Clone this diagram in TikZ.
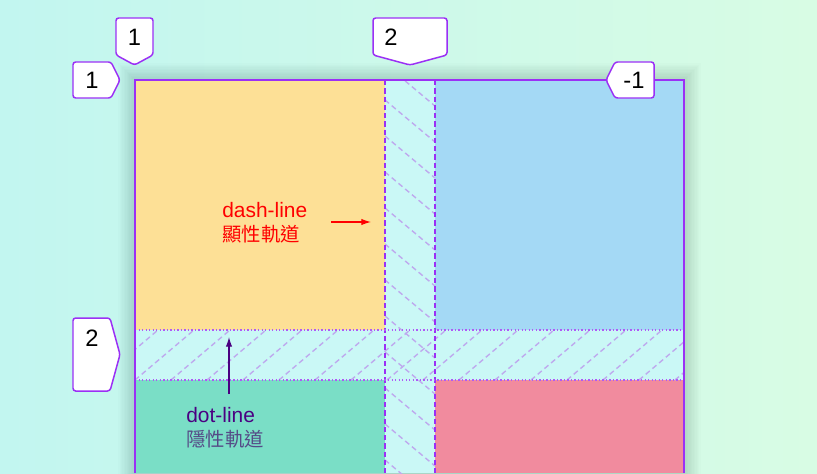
\documentclass[tikz,border=0pt]{standalone}
\usepackage{fontspec}
\setmainfont{Liberation Sans}
\newfontfamily\cjkfont{Noto Sans CJK TC}
\usepackage{tikz}
\usetikzlibrary{arrows.meta}
\definecolor{bgcyan}{RGB}{194,246,240}
\definecolor{bggreen}{RGB}{216,252,228}
\definecolor{cellorange}{RGB}{253,224,150}
\definecolor{cellblue}{RGB}{164,217,245}
\definecolor{cellteal}{RGB}{122,222,198}
\definecolor{cellpink}{RGB}{241,139,158}
\definecolor{gapfill}{RGB}{202,248,246}
\definecolor{hatchcol}{RGB}{190,170,238}
\definecolor{gridpurple}{RGB}{155,48,245}
\definecolor{dotindigo}{RGB}{75,0,130}
\definecolor{dotgrey}{RGB}{85,75,135}

\begin{document}
\begin{tikzpicture}
[x=0.02cm, y=-0.02cm,
 badge/.style={draw=gridpurple, fill=white, line width=0.85pt, rounded corners=1.5pt},
 badgetext/.style={inner sep=0pt, font=\fontsize{13.5}{16}\selectfont},
 hatch/.style={hatchcol, line width=0.8pt, dash pattern=on 3pt off 2pt},
 trackdash/.style={gridpurple, line width=0.6pt, dash pattern=on 3pt off 1.7pt},
 trackdot/.style={gridpurple!80, line width=0.6pt, dash pattern=on 0.8pt off 1.2pt},
 lbl/.style={inner sep=0pt, anchor=base west},
 ->/.style={line width=0.6pt, arrows={-Latex[length=5.5pt, width=3.6pt]}}]
\useasboundingbox (0,0) rectangle (817,473);
% background
\shade[left color=bgcyan, right color=bggreen] (0,0) rectangle (817,473);
% soft shadow round the grid
\foreach \s in {1,...,12}
  \fill[black, opacity=0.012] (135-\s*1.4, 80-\s*1.4) rectangle (684+\s*1.4, 480);
% cells
\fill[cellorange] (135,80) rectangle (385,330);
\fill[cellblue] (435,80) rectangle (684,330);
\fill[cellteal] (135,380) rectangle (385,473);
\fill[cellpink] (435,380) rectangle (684,473);
% gaps
\fill[gapfill] (385,80) rectangle (435,473);
\fill[gapfill] (135,330) rectangle (684,380);
\begin{scope}
\clip (385,80) rectangle (435,473);
\foreach \k in {-2,...,11}
  \draw[hatch] (385,100+36*\k) -- ++(50,42);
\end{scope}
\begin{scope}
\clip (135,330) rectangle (684,380);
\foreach \k in {-4,...,14}
  \draw[hatch] (171+36*\k,380) -- ++(59,-50);
\end{scope}
% track lines
\draw[trackdash] (385,80) -- (385,473);
\draw[trackdash] (435,80) -- (435,473);
\draw[trackdot] (135,330) -- (684,330);
\draw[trackdot] (135,380) -- (684,380);
\draw[gridpurple, line width=0.85pt] (135,473) -- (135,80) -- (684,80) -- (684,473);
% line numbers
\draw[badge] (116,18) -- (153,18) -- (153,55) -- (134.5,65) -- (116,55) -- cycle;
\node[badgetext] (colone) at (134.5,37) {1};
\draw[badge] (73,62) -- (111,62) -- (120,80) -- (111,98) -- (73,98) -- cycle;
\node[badgetext] (rowone) at (92,80) {1};
\draw[badge] (373,18) -- (447,18) -- (447,55) -- (410,65) -- (373,55) -- cycle;
\node[badgetext] (coltwo) at (391,37) {2};
\draw[badge] (606,80) -- (615,62) -- (654,62) -- (654,98) -- (615,98) -- cycle;
\node[badgetext] (colend) at (634,80) {-1};
\draw[badge] (73,318) -- (110,318) -- (120,354.5) -- (110,391) -- (73,391) -- cycle;
\node[badgetext] (rowtwo) at (92,338) {2};
% annotations
\node[lbl, red, font=\fontsize{11.9}{14}\selectfont] (dashtxt) at (222,217) {dash-line};
\node[lbl, red, font=\fontsize{11}{13}\cjkfont] (dashzh) at (222,241) {顯性軌道};
\coordinate (dashfrom) at (331,222);
\coordinate (dashto) at (371,222);
\draw[->, red] (dashfrom) -- (dashto);
\node[lbl, dotindigo, font=\fontsize{11.9}{14}\selectfont] (dottxt) at (186,422) {dot-line};
\node[lbl, dotgrey, font=\fontsize{11}{13}\cjkfont] (dotzh) at (186,446) {隱性軌道};
\coordinate (dotfrom) at (229,394);
\coordinate (dotto) at (229,337);
\draw[->, dotindigo] (dotfrom) -- (dotto);
\end{tikzpicture}
\end{document}
